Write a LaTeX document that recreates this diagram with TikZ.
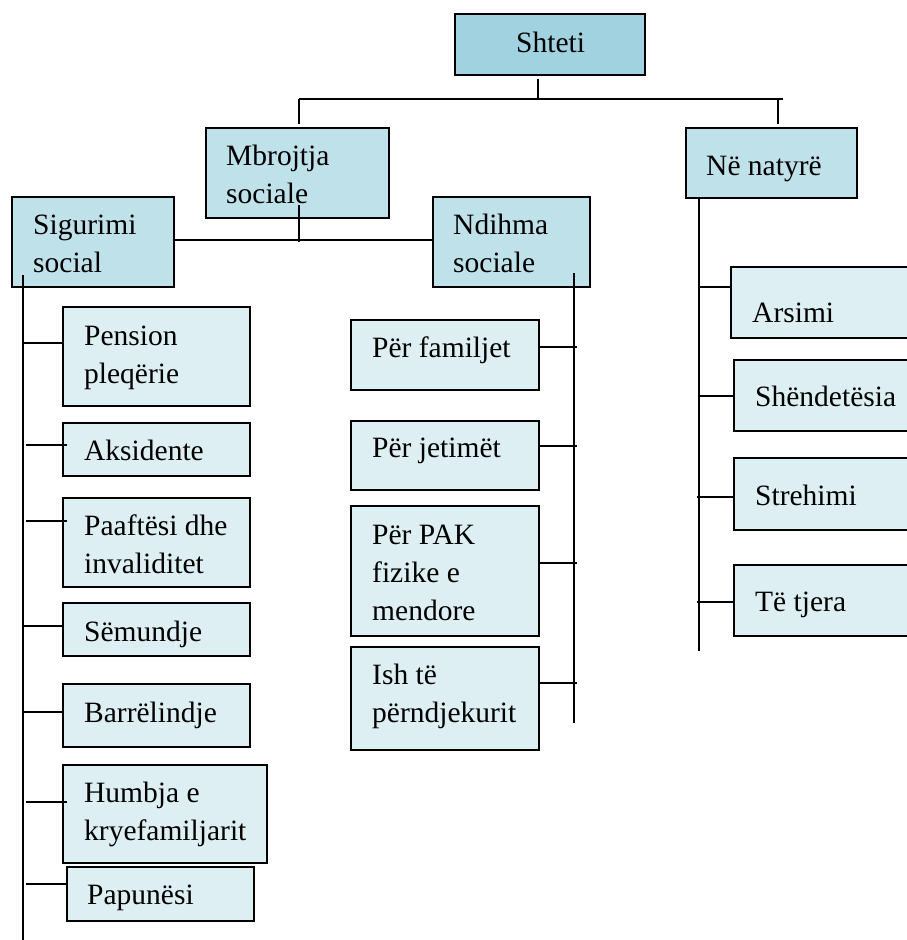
\documentclass[tikz,border=0pt]{standalone}
\usepackage{fontspec}
\setmainfont{Liberation Serif}
\definecolor{cTop}{RGB}{160,210,224}
\definecolor{cMid}{RGB}{191,225,234}
\definecolor{cLeaf}{RGB}{222,239,244}
\tikzset{
  box/.style={draw=black, line width=1.7pt, inner sep=0pt, rectangle},
  wire/.style={draw=black, line width=1.7pt},
  lbl/.style={inner sep=0pt, align=left, anchor=base west, font=\fontsize{29.5}{38}\selectfont}
}
\newcommand\mkbox[6]{%
  \pgfmathsetmacro\bxw{#4-#2}\pgfmathsetmacro\bxh{#5-#3}%
  \node[box, fill=#6, minimum width=\bxw pt, minimum height=\bxh pt] (#1) at ({(#2+#4)/2},{(#3+#5)/2}) {};}
\begin{document}
\begin{tikzpicture}[x=1pt,y=-1pt]
\useasboundingbox (0,0) rectangle (906,940);
% boxes
\mkbox{shteti}{455}{14}{645}{75}{cTop}
\mkbox{mbr}{206}{128}{389}{218}{cMid}
\mkbox{nat}{686}{128}{857}{198}{cMid}
\mkbox{sig}{12}{197}{174}{287}{cMid}
\mkbox{ndi}{433}{197}{590}{287}{cMid}
\mkbox{pen}{63}{307}{250}{406}{cLeaf}
\mkbox{aks}{63}{423}{250}{476}{cLeaf}
\mkbox{paa}{63}{498}{250}{587}{cLeaf}
\mkbox{sem}{63}{603}{250}{656}{cLeaf}
\mkbox{bar}{63}{684}{250}{747}{cLeaf}
\mkbox{hum}{63}{765}{267}{863}{cLeaf}
\mkbox{pap}{67}{867}{254}{921}{cLeaf}
\mkbox{fam}{351}{320}{539}{390}{cLeaf}
\mkbox{jet}{351}{421}{539}{490}{cLeaf}
\mkbox{pak}{351}{506}{539}{636}{cLeaf}
\mkbox{ish}{351}{647}{539}{750}{cLeaf}
\mkbox{ars}{731}{267}{920}{338}{cLeaf}
\mkbox{shn}{734}{360}{920}{431}{cLeaf}
\mkbox{str}{734}{458}{920}{530}{cLeaf}
\mkbox{tje}{734}{565}{920}{636}{cLeaf}
% texts (base west = baseline of the last line)
\node[lbl] (t-shteti) at (516,52) {Shteti};
\node[lbl] (t-mbr) at (226,203) {Mbrojtja\\sociale};
\node[lbl] (t-nat) at (706,175) {Në natyrë};
\node[lbl] (t-sig) at (33,272) {Sigurimi\\social};
\node[lbl] (t-ndi) at (453,272) {Ndihma\\sociale};
\node[lbl] (t-pen) at (84,383) {Pension\\pleqërie};
\node[lbl] (t-aks) at (84,460) {Aksidente};
\node[lbl] (t-paa) at (84,573) {Paaftësi dhe\\invaliditet};
\node[lbl] (t-sem) at (84,641) {Sëmundje};
\node[lbl] (t-bar) at (84,722) {Barrëlindje};
\node[lbl] (t-hum) at (84,840) {Humbja e\\kryefamiljarit};
\node[lbl] (t-pap) at (87,904) {Papunësi};
\node[lbl] (t-fam) at (372,357) {Për familjet};
\node[lbl] (t-jet) at (372,457) {Për jetimët};
\node[lbl] (t-pak) at (372,620) {Për PAK\\fizike e\\mendore};
\node[lbl] (t-ish) at (372,722) {Ish të\\përndjekurit};
\node[lbl] (t-ars) at (752,322) {Arsimi};
\node[lbl] (t-shn) at (755,406) {Shëndetësia};
\node[lbl] (t-str) at (755,505) {Strehimi};
\node[lbl] (t-tje) at (755,611) {Të tjera};
% top bus
\coordinate (busT) at (538,99);
\coordinate (busL) at (299,99);
\coordinate (busR) at (783,99);
\coordinate (dropL) at (299,124);
\coordinate (dropR) at (778,124);
\draw[wire] ([yshift=-3pt]shteti.south -| busT) -- (busT);
\draw[wire] (busL) -- (busR);
\draw[wire] (busL) -- (dropL);
\draw[wire] (dropR |- busR) -- (dropR);
% second bus
\coordinate (mbA) at (299,205);
\coordinate (mbB) at (299,242);
\coordinate (hL) at (174,240);
\coordinate (hR) at (433,240);
\draw[wire] (mbA) -- (mbB);
\draw[wire] (sig.east |- hL) -- (ndi.west |- hR);
% trunks
\coordinate (sigT) at (23,275);
\coordinate (sigB) at (23,940);
\coordinate (ndiT) at (574,273);
\coordinate (ndiB) at (574,723);
\coordinate (natT) at (699,198);
\coordinate (natB) at (699,651);
\draw[wire] (sigT) -- (sigB);
\draw[wire] (ndiT) -- (ndiB);
\draw[wire] (natT) -- (natB);
% Sigurimi leaves
\draw[wire] (sigT |- 0,343) -- (pen.west |- 0,343);
\draw[wire] ([xshift=3pt]sigT |- 0,445) -- ([xshift=5pt]aks.west |- 0,445);
\draw[wire] ([xshift=3pt]sigT |- 0,521) -- ([xshift=5pt]paa.west |- 0,521);
\draw[wire] (sigT |- 0,626) -- (sem.west |- 0,626);
\draw[wire] (sigT |- 0,712) -- (bar.west |- 0,712);
\draw[wire] ([xshift=3pt]sigT |- 0,802) -- ([xshift=5pt]hum.west |- 0,802);
\draw[wire] ([xshift=3pt]sigT |- 0,884) -- ([xshift=1pt]pap.west |- 0,884);
% Ndihma leaves
\draw[wire] (fam.east |- 0,347) -- ([xshift=3pt]ndiT |- 0,347);
\draw[wire] (jet.east |- 0,446) -- ([xshift=3pt]ndiT |- 0,446);
\draw[wire] (pak.east |- 0,563) -- ([xshift=3pt]ndiT |- 0,563);
\draw[wire] (ish.east |- 0,683) -- ([xshift=3pt]ndiT |- 0,683);
% Natyre leaves
\draw[wire] (natT |- 0,287) -- (ars.west |- 0,287);
\draw[wire] (natT |- 0,396) -- ([xshift=2pt]shn.west |- 0,396);
\draw[wire] ([xshift=-2pt]natT |- 0,497) -- (str.west |- 0,497);
\draw[wire] ([xshift=-2pt]natT |- 0,602) -- (tje.west |- 0,602);
\end{tikzpicture}
\end{document}
